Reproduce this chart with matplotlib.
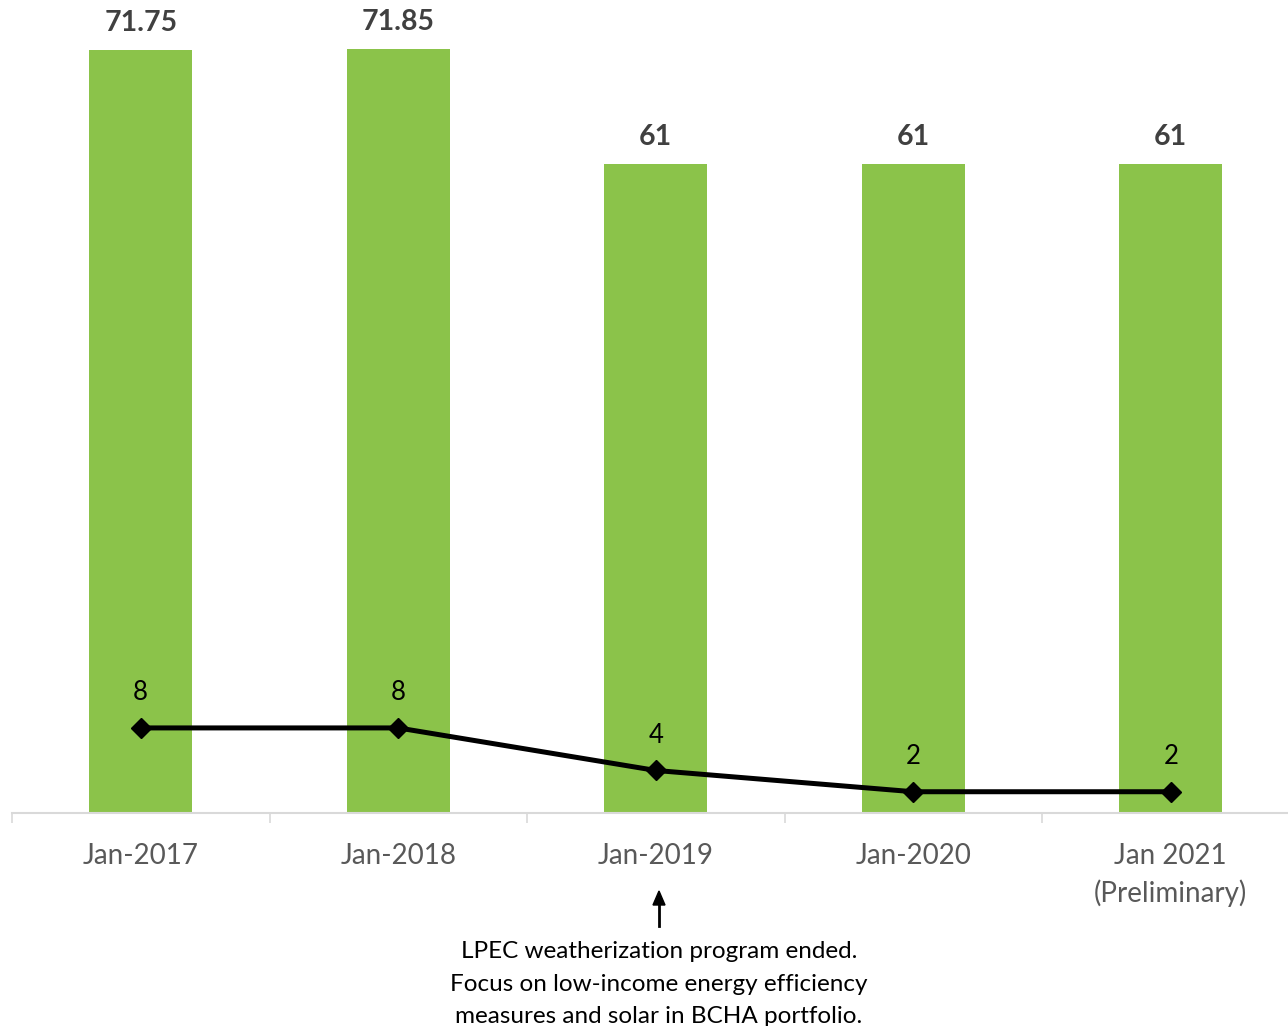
import matplotlib.pyplot as plt

# ── Data ──────────────────────────────────────────────────────────────────────

categories = ["Jan-2017", "Jan-2018", "Jan-2019", "Jan-2020", "Jan 2021\n(Preliminary)"]
bar_values = [71.75, 71.85, 61, 61, 61]
bar_labels = ["71.75", "71.85", "61", "61", "61"]
line_values = [8, 8, 4, 2, 2]
note = ("LPEC weatherization program ended.\n"
        "Focus on low-income energy efficiency\n"
        "measures and solar in BCHA portfolio.")

GREEN = "#8bc34a"
FONT = ["Lato", "DejaVu Sans"]

# ── Figure ────────────────────────────────────────────────────────────────────

plt.rcParams["font.family"] = FONT
W, H = 1288, 1026
fig = plt.figure(figsize=(W / 100, H / 100), dpi=100)
ax = fig.add_axes([12 / W, 1 - 813 / H, 1287.5 / W, 813 / H])

x = list(range(len(categories)))
ax.bar(x, bar_values, width=0.4, color=GREEN, zorder=2)
ax.plot(x, line_values, color="black", lw=3.6, marker="D", markersize=10, zorder=3)

for xi, v, lab in zip(x, bar_values, bar_labels):
    ax.annotate(lab, (xi, v), xytext=(0, 19.5), textcoords="offset points",
                ha="center", va="center", fontsize=20.5, fontweight="bold",
                color="#404040", annotation_clip=False)

for xi, v in zip(x, line_values):
    ax.annotate(str(v), (xi, v), xytext=(0, 25.5), textcoords="offset points",
                ha="center", va="center", fontsize=18.5, color="black")

ax.set_xlim(-0.5, len(categories) - 0.5)
ax.set_ylim(0, 76.45)
ax.set_yticks([])
for s in ["top", "right", "left"]:
    ax.spines[s].set_visible(False)
ax.spines["bottom"].set_color("#d9d9d9")
ax.spines["bottom"].set_linewidth(1.5)

ax.set_xticks(x)
ax.set_xticklabels(categories, fontsize=20, color="#595959", linespacing=1.45)
ax.tick_params(axis="x", which="major", length=0, pad=21.5)
ax.set_xticks([i - 0.5 for i in range(len(categories) + 1)], minor=True)
ax.tick_params(axis="x", which="minor", length=7.5, width=1.2, color="#d9d9d9")

# ── Note below Jan-2019 ───────────────────────────────────────────────────────

ax_x = 659 / W
fig.add_artist(plt.Line2D([ax_x, ax_x], [1 - 926 / H, 1 - 905 / H],
                          color="black", lw=2, transform=fig.transFigure))
fig.patches.append(plt.Polygon([[ax_x - 6 / W, 1 - 905 / H], [ax_x + 6 / W, 1 - 905 / H],
                                [ax_x, 1 - 891 / H]], closed=True, color="black",
                               transform=fig.transFigure))
fig.text(ax_x, 1 - 941 / H, note, ha="center", va="top", fontsize=17.5,
         color="black", linespacing=1.68)

fig.savefig("out.png", dpi=100)
